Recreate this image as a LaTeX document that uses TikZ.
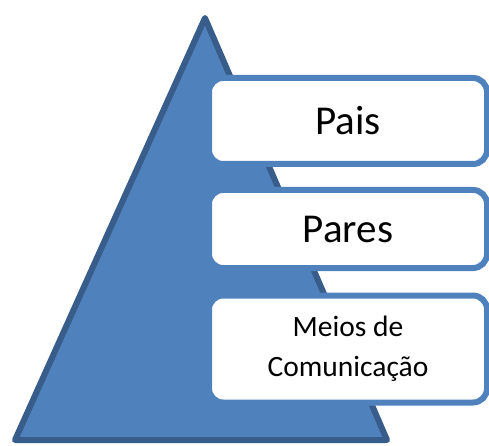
\documentclass[tikz,border=0pt]{standalone}
\usepackage{fontspec}
\setmainfont{Carlito}
\definecolor{accfill}{HTML}{4F81BD}
\definecolor{accdark}{HTML}{385D8A}
\begin{document}
\begin{tikzpicture}[x=1pt,y=-1pt,
  listbox/.style={draw=accfill,fill=white,line width=6pt,rounded corners=14pt,
    rectangle,inner sep=0pt,minimum width=278pt,align=center}]
\useasboundingbox (0,0) rectangle (489,446);
\coordinate (apex) at (205,18);
\coordinate (bl) at (15,440);
\coordinate (br) at (387,440);
\draw[fill=accfill,draw=accdark,line width=6pt,line join=round] (apex) -- (bl) -- (br) -- cycle;
\node[listbox,minimum height=86pt,font=\fontsize{41}{48}\selectfont] (pais) at (348,121) {Pais};
\node[listbox,minimum height=78pt,font=\fontsize{41}{48}\selectfont] (pares) at (348,229) {Pares};
\node[listbox,minimum height=107pt,font=\fontsize{29.5}{40}\selectfont] (meios) at (348,349) {Meios de\\Comunicação};
\end{tikzpicture}
\end{document}
